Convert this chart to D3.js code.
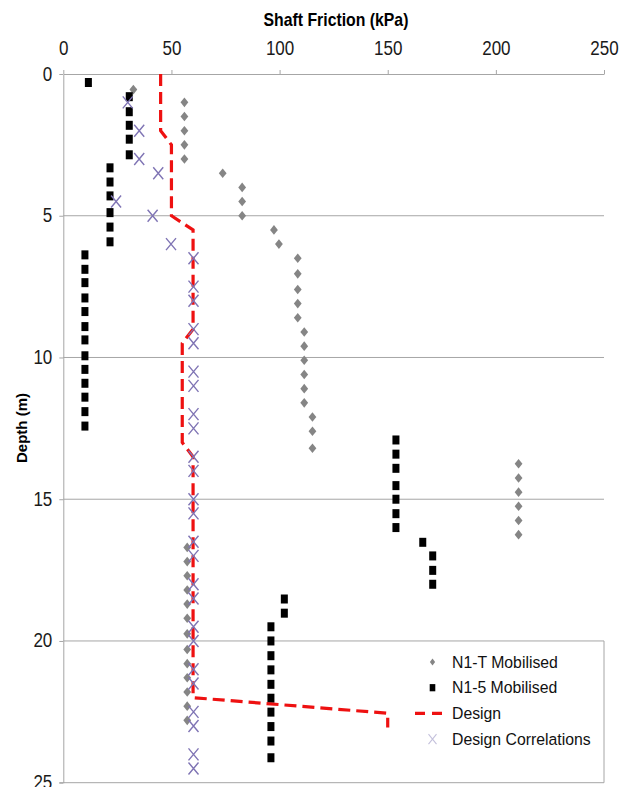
<!DOCTYPE html>
<html>
<head>
<meta charset="utf-8">
<script src="https://cdn.jsdelivr.net/npm/d3@7"></script>
<style>
  body { margin: 0; background: #fff; }
  svg { display: block; font-family: "Liberation Sans", Arial, sans-serif; }
</style>
</head>
<body>
<svg id="chart" width="624" height="787"></svg>
<script>
// [shaft friction kPa, depth m]
var n1tMobilised = [
  [32.4, 0.55],
  [56, 1.0], [56, 1.5], [56, 2.0], [56, 2.5], [56, 3.0],
  [73.7, 3.5],
  [82.7, 4.0], [82.7, 4.5], [82.7, 5.0],
  [97.4, 5.5], [99.7, 6.0],
  [108.4, 6.5], [108.4, 7.05], [108.4, 7.6], [108.4, 8.1], [108.4, 8.6],
  [111.4, 9.1], [111.4, 9.6], [111.4, 10.1], [111.4, 10.6], [111.4, 11.1], [111.4, 11.6],
  [115.2, 12.1], [115.2, 12.6], [115.2, 13.2],
  [210.5, 13.75], [210.5, 14.25], [210.5, 14.75], [210.5, 15.25], [210.5, 15.75], [210.5, 16.25],
  [57.3, 16.7], [57.3, 17.2], [57.3, 17.7], [57.3, 18.2], [57.3, 18.7], [57.3, 19.2],
  [57.3, 19.75], [57.3, 20.3], [57.3, 20.8], [57.3, 21.3], [57.3, 21.8], [57.3, 22.3], [57.3, 22.8]
];

var n15Mobilised = [
  [11.6, 0.3],
  [30.5, 0.8], [30.5, 1.33], [30.5, 1.81], [30.5, 2.3], [30.5, 2.85],
  [21.6, 3.31], [21.6, 3.81], [21.6, 4.3], [21.6, 4.89], [21.6, 5.4], [21.6, 5.92],
  [10, 6.38], [10, 6.89], [10, 7.36], [10, 7.9], [10, 8.38], [10, 8.91], [10, 9.38],
  [10, 9.94], [10, 10.42], [10, 10.91], [10, 11.4], [10, 11.91], [10, 12.42],
  [153.8, 12.91], [153.8, 13.41], [153.8, 13.91], [153.8, 14.52], [153.8, 15.0], [153.8, 15.51], [153.8, 16.0],
  [166.2, 16.52],
  [170.8, 17.0], [170.8, 17.51], [170.8, 18.0],
  [102.2, 18.52], [102.2, 19.02],
  [96, 19.5], [96, 20.0], [96, 20.52], [96, 21.02], [96, 21.53], [96, 22.02],
  [96, 22.51], [96, 23.02], [96, 23.53], [96, 24.12]
];

var designLine = [
  [45, 0], [45, 2], [50, 2.5], [50, 5], [60, 5.5], [60, 9], [55, 9.5],
  [55, 13], [60, 13.5], [60, 22], [150, 22.55], [150, 23.05]
];

var designCorrelations = [
  [29.8, 1.0], [35.1, 2.0], [35.1, 3.0], [43.9, 3.5], [24.4, 4.5], [41.3, 5.0], [49.8, 6.0],
  [60.2, 6.5], [60.2, 7.5], [60.2, 8.0], [60.2, 9.0], [60.2, 9.5], [60.2, 10.5], [60.2, 11.0],
  [60.2, 12.0], [60.2, 12.5], [60.2, 13.5], [60.2, 14.0], [60.2, 15.0], [60.2, 15.5],
  [60.2, 16.5], [60.2, 17.0], [60.2, 18.0], [60.2, 18.5], [60.2, 19.5], [60.2, 20.0],
  [60.2, 21.0], [60.2, 21.5], [60.2, 22.5], [60.2, 23.0], [60.2, 24.0], [60.2, 24.5]
];

var xTicks = [0, 50, 100, 150, 200, 250];
var yTicks = [0, 5, 10, 15, 20, 25];
var gridDepths = [5, 10, 15, 20];
var legendNames = ["N1-T Mobilised", "N1-5 Mobilised", "Design", "Design Correlations"];

var axisColor = "#a6a6a6";
var stretch = 1.16; // the picture looks a bit taller than wide

var svg = d3.select("#chart");

var xScale = d3.scaleLinear().domain([0, 250]).range([63.3, 604]);
var yScale = d3.scaleLinear().domain([0, 25]).range([74, 782.7]);

// horizontal gridlines
svg.append("g")
  .selectAll("line")
  .data(gridDepths)
  .enter()
  .append("line")
  .attr("x1", xScale(0))
  .attr("x2", xScale(250))
  .attr("y1", (d) => yScale(d))
  .attr("y2", (d) => yScale(d))
  .attr("stroke", axisColor)
  .attr("stroke-width", 1);

// bottom edge of plot + right edge by the legend
svg.append("line")
  .attr("x1", xScale(0) - 4).attr("x2", xScale(250))
  .attr("y1", yScale(25)).attr("y2", yScale(25))
  .attr("stroke", axisColor);
svg.append("line")
  .attr("x1", xScale(250)).attr("x2", xScale(250))
  .attr("y1", yScale(20)).attr("y2", yScale(25))
  .attr("stroke", axisColor);

// top axis
var xAxis = svg.append("g")
  .attr("transform", `translate(0,${yScale(0)})`)
  .call(d3.axisTop(xScale).tickValues(xTicks).tickSize(4).tickSizeOuter(0).tickFormat((d) => d));

xAxis.select(".domain").attr("stroke", axisColor);
xAxis.selectAll(".tick line").attr("stroke", axisColor);
xAxis.selectAll(".tick text")
  .attr("y", null).attr("dy", null)
  .attr("transform", `translate(0,-19) scale(1,${stretch})`)
  .attr("fill", "#1a1a1a")
  .style("font-size", "17px")
  .style("font-family", "'Liberation Sans', Arial, sans-serif");

// left axis
var yAxis = svg.append("g")
  .attr("transform", `translate(${xScale(0)},0)`)
  .call(d3.axisLeft(yScale).tickValues(yTicks).tickSize(4).tickSizeOuter(0).tickFormat((d) => d));

yAxis.select(".domain").attr("stroke", axisColor);
yAxis.selectAll(".tick line").attr("stroke", axisColor);
yAxis.selectAll(".tick text")
  .attr("x", null).attr("dy", null)
  .attr("transform", `translate(-11,6) scale(1,${stretch})`)
  .attr("fill", "#1a1a1a")
  .style("font-size", "17px")
  .style("font-family", "'Liberation Sans', Arial, sans-serif");

// axis titles
svg.append("text")
  .attr("transform", `translate(336,26) scale(1,${stretch})`)
  .style("text-anchor", "middle")
  .style("font-size", "15.8px")
  .style("font-weight", "bold")
  .text("Shaft Friction (kPa)");

svg.append("text")
  .attr("transform", "translate(27,428) rotate(-90)")
  .style("text-anchor", "middle")
  .style("font-size", "15px")
  .style("font-weight", "bold")
  .text("Depth (m)");

// N1-T Mobilised - grey diamonds
var diamond = "M0,-4.8L3.9,0L0,4.8L-3.9,0Z";
svg.append("g")
  .selectAll("path")
  .data(n1tMobilised)
  .enter()
  .append("path")
  .attr("d", diamond)
  .attr("transform", (d) => `translate(${xScale(d[0])},${yScale(d[1])})`)
  .attr("fill", "#858585");

// N1-5 Mobilised - black squares
svg.append("g")
  .selectAll("rect")
  .data(n15Mobilised)
  .enter()
  .append("rect")
  .attr("x", (d) => xScale(d[0]) - 3.5)
  .attr("y", (d) => yScale(d[1]) - 4.5)
  .attr("width", 7)
  .attr("height", 9)
  .attr("fill", "#000");

// Design - red dashed line
var line = d3.line()
  .x((d) => xScale(d[0]))
  .y((d) => yScale(d[1]));

svg.append("path")
  .datum(designLine)
  .attr("d", line)
  .attr("fill", "none")
  .attr("stroke", "#ee1111")
  .attr("stroke-width", 3.2)
  .attr("stroke-dasharray", "12,6");

// Design Correlations - crosses
var cross = "M-5,-6L5,6M-5,6L5,-6";
svg.append("g")
  .selectAll("path")
  .data(designCorrelations)
  .enter()
  .append("path")
  .attr("d", cross)
  .attr("transform", (d) => `translate(${xScale(d[0])},${yScale(d[1])})`)
  .attr("fill", "none")
  .attr("stroke", "#7f74b4")
  .attr("stroke-width", 1.4);

// legend
var legend = svg.append("g")
  .selectAll("g")
  .data(legendNames)
  .enter()
  .append("g")
  .attr("transform", (d, i) => `translate(432.5,${662 + i * 25.7})`);

legend.append("text")
  .attr("transform", `translate(19.5,5.5) scale(1,1.05)`)
  .style("font-size", "15.8px")
  .attr("fill", "#111")
  .text((d) => d);

legend.filter((d, i) => i === 0)
  .append("path")
  .attr("d", "M0,-3.6L2.6,0L0,3.6L-2.6,0Z")
  .attr("fill", "#858585");

legend.filter((d, i) => i === 1)
  .append("rect")
  .attr("x", -2.8).attr("y", -3.6)
  .attr("width", 5.6).attr("height", 7.2)
  .attr("fill", "#000");

legend.filter((d, i) => i === 2)
  .append("line")
  .attr("x1", -17.5).attr("x2", 10.5)
  .attr("y1", 0).attr("y2", 0)
  .attr("stroke", "#ee1111")
  .attr("stroke-width", 3.2)
  .attr("stroke-dasharray", "10,7");

legend.filter((d, i) => i === 3)
  .append("path")
  .attr("d", "M-4,-5L4,5M-4,5L4,-5")
  .attr("fill", "none")
  .attr("stroke", "#c4c1dc")
  .attr("stroke-width", 1.1);
</script>
</body>
</html>
